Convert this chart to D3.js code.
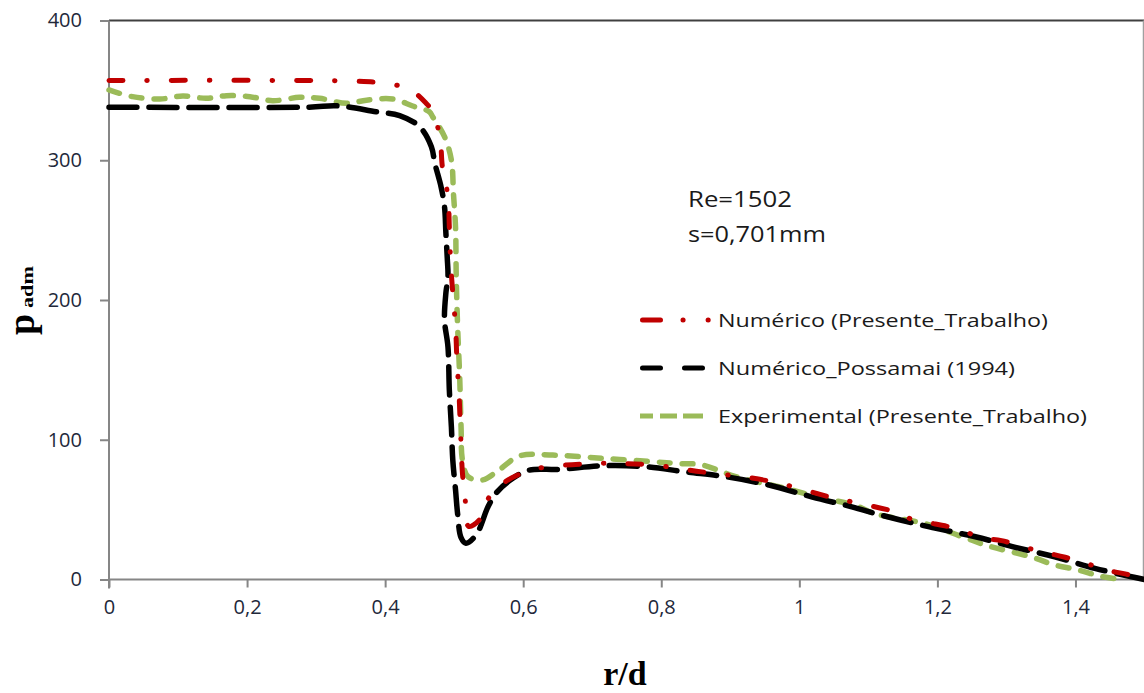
<!DOCTYPE html>
<html>
<head>
<meta charset="utf-8">
<script src="https://cdn.jsdelivr.net/npm/d3@7"></script>
<style>
  html, body { margin: 0; padding: 0; background: #fff; }
  svg { display: block; }
</style>
</head>
<body>
<svg id="chart" width="1144" height="693"></svg>
<script>
// ---- data ----
const xTicks = [0, 0.2, 0.4, 0.6, 0.8, 1, 1.2, 1.4];
const xTickLabels = ["0", "0,2", "0,4", "0,6", "0,8", "1", "1,2", "1,4"];
const yTicks = [0, 100, 200, 300, 400];
const yTickLabels = ["0", "100", "200", "300", "400"];

const seriesNames = ["Numérico (Presente_Trabalho)", "Numérico_Possamai (1994)", "Experimental (Presente_Trabalho)"];

const redX = [0, 0.36, 0.40, 0.435, 0.459, 0.467, 0.479, 0.483, 0.491, 0.493, 0.495, 0.498, 0.502, 0.504, 0.507, 0.509, 0.512, 0.516, 0.521, 0.537, 0.546, 0.563, 0.609, 0.70, 0.739, 0.787, 0.859, 0.931, 0.970, 1.052, 1.072, 1.144, 1.163, 1.197, 1.231, 1.264, 1.293, 1.342, 1.385, 1.419, 1.443, 1.472, 1.5];
const redY = [357, 356.5, 355, 351, 341, 336, 318, 295, 274, 252, 226, 205, 181, 157, 133, 109, 76, 57, 38, 43, 55, 66, 78, 83, 83, 82, 77, 72.6, 69, 58, 56, 47.6, 43, 39.7, 36, 29.7, 27.8, 21, 15.9, 11, 6.8, 4, 0];

const blackX = [0, 0.29, 0.33, 0.387, 0.421, 0.450, 0.467, 0.472, 0.481, 0.486, 0.488, 0.490, 0.491, 0.488, 0.486, 0.491, 0.493, 0.496, 0.498, 0.502, 0.505, 0.510, 0.517, 0.532, 0.549, 0.561, 0.585, 0.609, 0.652, 0.715, 0.778, 0.835, 0.893, 0.956, 1.019, 1.076, 1.119, 1.187, 1.255, 1.313, 1.370, 1.428, 1.481, 1.5];
const blackY = [338, 338, 339, 334.7, 332, 324, 309.7, 297.8, 281, 266.8, 248, 230, 216.7, 205, 185.7, 166.6, 135.6, 109, 85.5, 64, 47, 30, 26, 32, 52, 62, 72.4, 78.3, 78.8, 81.4, 80.7, 77, 73.6, 67.6, 59, 52, 46, 37.8, 30.6, 23, 16.3, 8, 2, 0];

const greenX = [0, 0.034, 0.074, 0.107, 0.141, 0.170, 0.204, 0.237, 0.276, 0.305, 0.344, 0.373, 0.411, 0.440, 0.464, 0.469, 0.486, 0.496, 0.499, 0.502, 0.503, 0.505, 0.508, 0.510, 0.512, 0.520, 0.541, 0.565, 0.595, 0.643, 0.715, 0.787, 0.826, 0.859, 0.908, 0.970, 1.028, 1.081, 1.110, 1.182, 1.236, 1.274, 1.337, 1.370, 1.404, 1.439, 1.467];
const greenY = [350.3, 345.5, 343.8, 346, 344.3, 346.2, 345.5, 342.6, 345, 344.3, 340.7, 343, 343.8, 338.8, 334.7, 331, 316.9, 300, 276, 252, 216.7, 181, 145, 109, 85.5, 73.6, 71.2, 78.4, 88.5, 89, 86.7, 84.3, 83, 82, 73.6, 66.4, 59, 53, 47, 40, 30.6, 24, 16, 10.4, 6.8, 2, 0];

// ---- layout ----
const svg = d3.select("#chart");
const x = d3.scaleLinear().domain([0, 1.5]).range([109, 1144.5]);
const y = d3.scaleLinear().domain([0, 400]).range([579.5, 20.5]);

const axisColor = "#868686";
const textColor = "#22283a";
const tickFont = "'Open Sans', 'DejaVu Sans', sans-serif";

// plot frame: top dark line, right gray line
svg.append("line").attr("x1", x(0)).attr("x2", x(1.5)).attr("y1", y(400)).attr("y2", y(400))
  .attr("stroke", "#404040").attr("stroke-width", 2);
svg.append("line").attr("x1", x(1.5) - 1).attr("x2", x(1.5) - 1).attr("y1", y(400)).attr("y2", y(0))
  .attr("stroke", "#a0a0a0").attr("stroke-width", 1.5);

// x axis
const xAxis = d3.axisBottom(x).tickValues(xTicks).tickSize(8).tickPadding(12)
  .tickFormat((d, i) => xTickLabels[i]);
const gx = svg.append("g").attr("transform", `translate(0,${y(0)})`).call(xAxis);
gx.select(".domain").attr("stroke", axisColor).attr("stroke-width", 2).attr("d", `M${x(0)},0H${x(1.5)}`);
gx.selectAll(".tick line").attr("stroke", axisColor).attr("stroke-width", 2);
gx.selectAll(".tick text").attr("fill", textColor).style("font-family", tickFont).style("font-size", "20px").attr("dy", "0.71em");

// y axis
const yAxis = d3.axisLeft(y).tickValues(yTicks).tickSize(9).tickPadding(18)
  .tickFormat((d, i) => yTickLabels[i]);
const gy = svg.append("g").attr("transform", `translate(${x(0)},0)`).call(yAxis);
gy.select(".domain").attr("stroke", axisColor).attr("stroke-width", 2).attr("d", `M0,${y(0) + 9}V${y(400)}`);
gy.selectAll(".tick line").attr("stroke", axisColor).attr("stroke-width", 2);
gy.selectAll(".tick text").attr("fill", textColor).style("font-family", tickFont).style("font-size", "20px");

// ---- series ----
const line = d3.line().x(d => x(d[0])).y(d => y(d[1])).curve(d3.curveCatmullRom.alpha(0.5));
const series = [
  { xs: redX, ys: redY, color: "#c00000", width: 5, dash: "14,24,0.5,24" },
  { xs: blackX, ys: blackY, color: "#000000", width: 5.5, dash: "28,12" },
  { xs: greenX, ys: greenY, color: "#9bbb59", width: 5.5, dash: "11,12" }
];
// draw order: green under, then black, then red
[2, 1, 0].forEach(i => {
  const s = series[i];
  svg.append("path")
    .datum(s.xs.map((v, k) => [v, s.ys[k]]))
    .attr("d", line)
    .attr("fill", "none")
    .attr("stroke", s.color)
    .attr("stroke-width", s.width)
    .attr("stroke-dasharray", s.dash)
    .attr("stroke-linecap", "round")
    .attr("stroke-linejoin", "round");
});

// ---- annotation ----
const annFont = "'Open Sans', 'DejaVu Sans', sans-serif";
svg.append("text").attr("x", 688).attr("y", 206.5).text("Re=1502")
  .attr("fill", "#1a1a1a").style("font-family", annFont).style("font-size", "21px")
  .attr("textLength", 104).attr("lengthAdjust", "spacingAndGlyphs");
svg.append("text").attr("x", 688).attr("y", 241.5).text("s=0,701mm")
  .attr("fill", "#1a1a1a").style("font-family", annFont).style("font-size", "21px")
  .attr("textLength", 138).attr("lengthAdjust", "spacingAndGlyphs");

// ---- legend ----
const legendRows = [320, 368, 416];
const legendLens = [330, 297, 369];
const legendLines = [
  { x1: 642.5, x2: 710, dash: "18,22.5,0.1,25,0.1,40", cap: "round" },
  { x1: 642.5, x2: 705, dash: "18,24", cap: "round" },
  { x1: 640, x2: 703, dash: "13,7,17,6,20", cap: "butt" }
];
series.forEach((s, i) => {
  const yy = legendRows[i];
  const L = legendLines[i];
  svg.append("line").attr("x1", L.x1).attr("x2", L.x2).attr("y1", yy).attr("y2", yy)
    .attr("stroke", s.color).attr("stroke-width", 5)
    .attr("stroke-linecap", L.cap)
    .attr("stroke-dasharray", L.dash);
  svg.append("text").attr("x", 718).attr("y", yy + 7).text(seriesNames[i])
    .attr("fill", "#1a1a1a").style("font-family", annFont).style("font-size", "19px")
    .attr("textLength", legendLens[i]).attr("lengthAdjust", "spacingAndGlyphs");
});

// ---- axis titles ----
const serif = "'Liberation Serif', 'DejaVu Serif', serif";
svg.append("text").attr("x", 625).attr("y", 684.5).attr("text-anchor", "middle").text("r/d")
  .style("font-family", serif).style("font-size", "34px").style("font-weight", "bold").attr("fill", "#000");
const yt = svg.append("g").attr("transform", "translate(34,335) rotate(-90)");
yt.append("text").attr("x", 0).attr("y", 0).text("p")
  .style("font-family", serif).style("font-size", "38px").style("font-weight", "bold").attr("fill", "#000");
yt.append("text").attr("x", 27).attr("y", -1).text("adm")
  .style("font-family", serif).style("font-size", "16px").style("font-weight", "bold").attr("fill", "#000")
  .attr("textLength", 42).attr("lengthAdjust", "spacingAndGlyphs");
</script>
</body>
</html>
